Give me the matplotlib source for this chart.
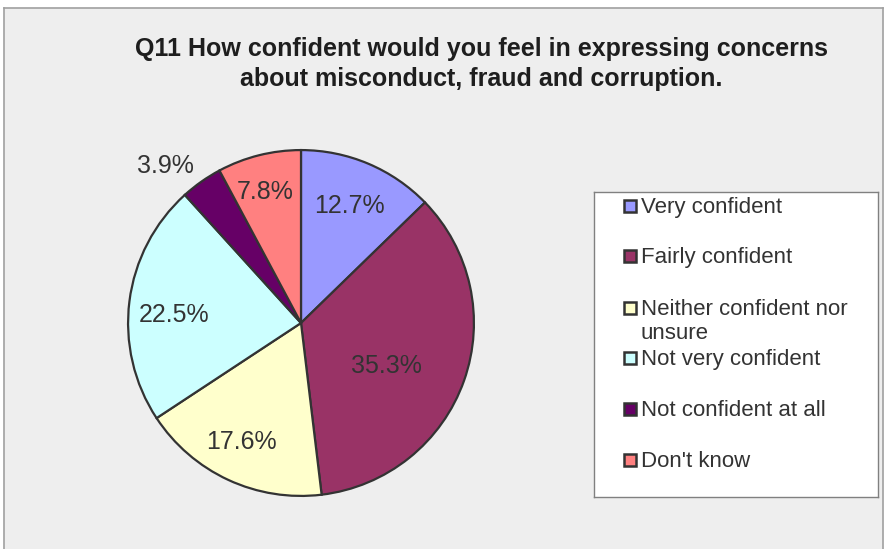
import numpy as np
import matplotlib
matplotlib.use("Agg")
import matplotlib.pyplot as plt
from matplotlib.patches import Rectangle

plt.rcParams['font.family'] = ['Liberation Sans', 'DejaVu Sans']

title = "Q11 How confident would you feel in expressing concerns\nabout misconduct, fraud and corruption."
categories = ["Very confident", "Fairly confident", "Neither confident nor\nunsure",
              "Not very confident", "Not confident at all", "Don't know"]
values = [12.7, 35.3, 17.6, 22.5, 3.9, 7.8]
colors = ["#9999FF", "#993366", "#FFFFCC", "#CCFFFF", "#660066", "#FF8080"]

# data-label placement: radial distance (in radii) and angular nudge (degrees)
label_radius = [0.748, 0.546, 0.759, 0.734, 1.207, 0.80]
label_nudge = [0.9, -5.6, -2.1, 2.5, 5.2, 1.0]

W, H, DPI = 885, 549, 100
fig = plt.figure(figsize=(W / DPI, H / DPI), dpi=DPI, facecolor="white")

def px_axes(x0, y0, x1, y1, **kw):
    return fig.add_axes([x0 / W, 1 - y1 / H, (x1 - x0) / W, (y1 - y0) / H], **kw)

# chart area background with border
bg = px_axes(4, 8, 883, 560)
bg.set_facecolor("#EEEEEE")
bg.set_xticks([]); bg.set_yticks([])
for s in bg.spines.values():
    s.set_color("#A0A0A0"); s.set_linewidth(1.2)

fig.text(481 / W, 1 - 64 / H, title, ha="center", va="center", fontsize=18,
         fontweight="bold", color="#1E1E1E", linespacing=1.33)

# pie
cx, cy, r = 301, 323, 173
ax = px_axes(cx - r - 2, cy - r - 2, cx + r + 2, cy + r + 2)
ax.set_axis_off()
wedges, _ = ax.pie(values, colors=colors, startangle=90, counterclock=False,
                   radius=1.0, wedgeprops=dict(edgecolor="#333333", linewidth=1.6))
ax.set_xlim(-1.012, 1.012); ax.set_ylim(-1.012, 1.012)
ax.set_aspect("equal")
for w, v, d, nudge in zip(wedges, values, label_radius, label_nudge):
    ang = np.deg2rad((w.theta1 + w.theta2) / 2 + nudge)
    ax.text(d * np.cos(ang), d * np.sin(ang), f"{v:.1f}%", ha="center",
            va="center_baseline", fontsize=18, color="#333333")

# legend
lg = px_axes(594, 192, 878, 497)
lg.set_xlim(0, 284); lg.set_ylim(305, 0)
lg.set_xticks([]); lg.set_yticks([])
lg.set_facecolor("white")
for s in lg.spines.values():
    s.set_color("#808080"); s.set_linewidth(1.0)
square_y = [14, 64, 116, 166, 217, 268]
for c, lab, y in zip(colors, categories, square_y):
    lg.add_patch(Rectangle((29.5, y - 6), 12, 12, facecolor=c, edgecolor="#333333", linewidth=1.8))
    lg.text(47, y - 9, lab, ha="left", va="top", fontsize=16, color="#333333")

fig.savefig("out.png", dpi=DPI, facecolor="white")
